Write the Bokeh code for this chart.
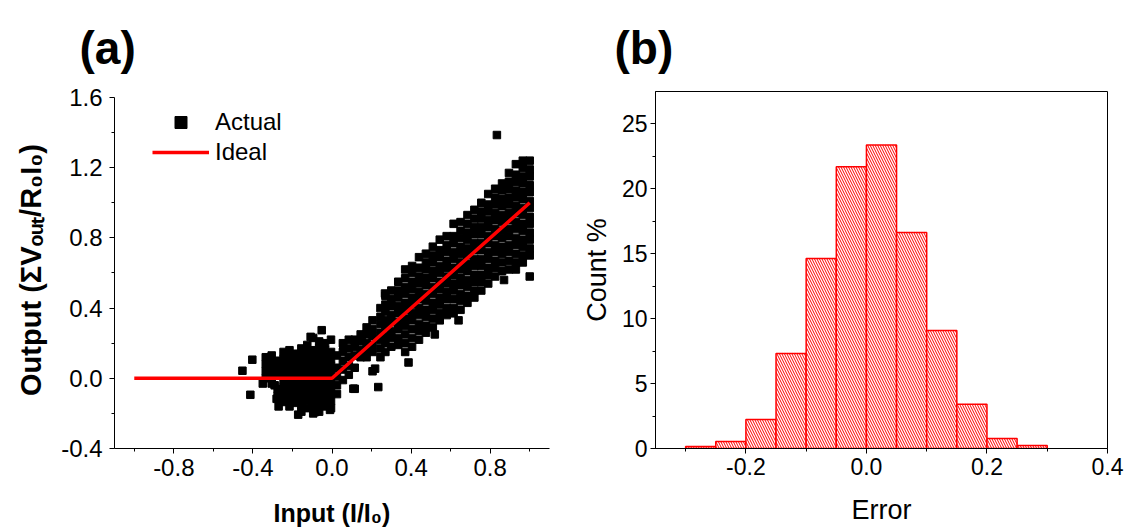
from bokeh.plotting import figure
from bokeh.models import (Range1d, FixedTicker, NumeralTickFormatter, Title,
                          Legend, LegendItem)
from bokeh.layouts import row
from bokeh.embed import file_html
from bokeh.resources import INLINE

FONT = "Liberation Sans"

# ---------------- data: panel (a) ----------------
ideal_x = [-1.0, 0.0, 1.0]
ideal_y = [0.0, 0.0, 1.0]

# "Actual" points
col_x = [-0.335, -0.305, -0.275, -0.245, -0.215, -0.185, -0.155, -0.125, -0.095,
         -0.065, -0.035, -0.005, 0.025,
         0.055, 0.085, 0.115, 0.145, 0.175, 0.205,
         0.245, 0.27, 0.30, 0.335, 0.37, 0.405, 0.44, 0.475, 0.51, 0.545, 0.58,
         0.615, 0.65, 0.685, 0.72, 0.755, 0.79, 0.825, 0.86, 0.895, 0.93, 0.965, 1.0]
col_y = [
    [0.12, 0.08, 0.04, 0.00],
    [0.13, 0.09, 0.05, 0.01, -0.03],
    [0.10, 0.06, 0.02, -0.06, -0.10],
    [0.15, 0.11, 0.07, 0.03, -0.01, -0.05, -0.09, -0.13],
    [0.16, 0.12, 0.08, 0.04, 0.00, -0.04, -0.08, -0.12, -0.16],
    [0.14, 0.10, 0.06, 0.02, -0.02, -0.06, -0.10, -0.14],
    [0.17, 0.13, 0.09, 0.05, 0.01, -0.03, -0.07, -0.11, -0.15, -0.19],
    [0.19, 0.15, 0.11, 0.07, 0.03, -0.01, -0.05, -0.09, -0.13, -0.17],
    [0.23, 0.16, 0.12, 0.08, 0.04, 0.00, -0.04, -0.08, -0.12, -0.16, -0.20],
    [0.21, 0.17, 0.13, 0.09, 0.05, 0.01, -0.03, -0.07, -0.11, -0.15, -0.19],
    [0.20, 0.16, 0.12, 0.08, 0.04, 0.00, -0.04, -0.08, -0.12, -0.16],
    [0.22, 0.15, 0.11, 0.07, 0.03, -0.01, -0.05, -0.09, -0.13, -0.17],
    [0.13, 0.06, 0.01, -0.04, -0.09],
    [0.20, 0.15, 0.10, 0.05, -0.01],
    [0.22, 0.17, 0.12, 0.07, 0.02],
    [0.22, 0.18, 0.13, 0.06, -0.06],
    [0.25, 0.21, 0.16, 0.12],
    [0.29, 0.25, 0.20, 0.16, 0.12],
    [0.33, 0.28, 0.24, 0.19, 0.15, 0.04],
    [0.40, 0.35, 0.31, 0.26, 0.22, 0.17, 0.12],
    [0.47, 0.42, 0.38, 0.33, 0.29, 0.24, 0.20, 0.15],
    [0.50, 0.45, 0.41, 0.36, 0.32, 0.27, 0.23, 0.18],
    [0.55, 0.50, 0.46, 0.41, 0.37, 0.32, 0.28, 0.23, 0.19],
    [0.62, 0.57, 0.52, 0.48, 0.43, 0.39, 0.34, 0.30, 0.25, 0.20, 0.15],
    [0.64, 0.60, 0.55, 0.51, 0.46, 0.42, 0.37, 0.33, 0.28, 0.23, 0.18],
    [0.69, 0.63, 0.58, 0.54, 0.49, 0.45, 0.40, 0.36, 0.31, 0.27, 0.22],
    [0.71, 0.66, 0.62, 0.57, 0.53, 0.48, 0.44, 0.39, 0.35, 0.30, 0.26],
    [0.75, 0.70, 0.66, 0.61, 0.57, 0.52, 0.48, 0.43, 0.39, 0.34, 0.29],
    [0.79, 0.73, 0.69, 0.64, 0.60, 0.55, 0.51, 0.46, 0.42, 0.37, 0.33],
    [0.81, 0.76, 0.72, 0.67, 0.63, 0.58, 0.54, 0.49, 0.45, 0.40, 0.36],
    [0.88, 0.81, 0.77, 0.72, 0.68, 0.63, 0.59, 0.54, 0.50, 0.45, 0.40, 0.37],
    [0.89, 0.84, 0.80, 0.75, 0.71, 0.66, 0.62, 0.57, 0.53, 0.48, 0.44, 0.39],
    [0.93, 0.88, 0.83, 0.79, 0.74, 0.70, 0.65, 0.61, 0.56, 0.52, 0.47, 0.43],
    [0.96, 0.91, 0.86, 0.82, 0.77, 0.73, 0.68, 0.64, 0.59, 0.55, 0.50, 0.46],
    [1.00, 0.95, 0.91, 0.86, 0.82, 0.77, 0.73, 0.68, 0.64, 0.59, 0.55, 0.50],
    [1.05, 0.99, 0.95, 0.90, 0.86, 0.81, 0.77, 0.72, 0.68, 0.63, 0.59, 0.54],
    [1.08, 1.03, 0.99, 0.94, 0.90, 0.85, 0.81, 0.76, 0.72, 0.67, 0.63, 0.58],
    [1.11, 1.07, 1.02, 0.98, 0.93, 0.89, 0.84, 0.80, 0.75, 0.71, 0.66, 0.61],
    [1.17, 1.12, 1.08, 1.03, 0.99, 0.94, 0.90, 0.85, 0.81, 0.76, 0.72, 0.67, 0.62],
    [1.22, 1.16, 1.12, 1.07, 1.03, 0.98, 0.94, 0.89, 0.85, 0.80, 0.76, 0.71, 0.66, 0.62],
    [1.24, 1.20, 1.15, 1.11, 1.06, 1.02, 0.97, 0.93, 0.88, 0.84, 0.79, 0.75, 0.70, 0.66],
    [1.24, 1.19, 1.15, 1.10, 1.06, 1.01, 0.97, 0.92, 0.88, 0.83, 0.79, 0.74, 0.70, 0.58],
]
# isolated points around the cloud
extra_x = [-0.453, -0.403, -0.413, -0.350, -0.290, -0.280, -0.250, -0.270, -0.171,
           -0.052, -0.108, -0.010, -0.086, 0.108, 0.234, 0.218, 0.150, 0.192,
           0.268, 0.834, 0.057, 0.387, 0.520, 0.640, 0.870]
extra_y = [0.043, 0.106, -0.094, -0.030, -0.040, -0.117, -0.135, -0.160, -0.207,
           0.274, 0.236, -0.180, -0.192, -0.059, -0.050, 0.055, 0.236, 0.264,
           0.483, 1.386, 0.188, 0.090, 0.250, 0.330, 0.560]

act_x = [x for x, ys in zip(col_x, col_y) for _ in ys] + extra_x
act_y = [y for ys in col_y for y in ys] + extra_y

a_xticks = [-0.8, -0.4, 0.0, 0.4, 0.8]
a_xminor = [-1.0, -0.6, -0.2, 0.2, 0.6, 1.0]
a_yticks = [-0.4, 0.0, 0.4, 0.8, 1.2, 1.6]
a_yminor = [-0.2, 0.2, 0.6, 1.0, 1.4]

# ---------------- data: panel (b) ----------------
bin_left = [-0.30, -0.25, -0.20, -0.15, -0.10, -0.05, 0.00, 0.05, 0.10, 0.15, 0.20, 0.25]
bin_right = [-0.25, -0.20, -0.15, -0.10, -0.05, 0.00, 0.05, 0.10, 0.15, 0.20, 0.25, 0.30]
count_pct = [0.15, 0.54, 2.23, 7.32, 14.64, 21.70, 23.38, 16.64, 9.09, 3.40, 0.77, 0.23]

b_xticks = [-0.2, 0.0, 0.2, 0.4]
b_xminor = [-0.3, -0.1, 0.1, 0.3]
b_yticks = [0, 5, 10, 15, 20, 25]
b_yminor = [2.5, 7.5, 12.5, 17.5, 22.5]


def style_axis(ax, size, standoff):
    ax.axis_line_color = "black"
    ax.axis_line_width = 1
    ax.major_tick_line_color = "black"
    ax.minor_tick_line_color = "black"
    ax.major_tick_out = 5
    ax.major_tick_in = 0
    ax.minor_tick_out = 3
    ax.minor_tick_in = 0
    ax.major_label_text_font = FONT
    ax.major_label_text_font_size = size
    ax.major_label_text_color = "black"
    ax.major_label_standoff = standoff
    ax.axis_label_text_font = FONT
    ax.axis_label_text_font_style = "normal"
    ax.axis_label_text_color = "black"


def panel_title(p, txt, offset, standoff):
    t = Title(text=txt, align="left", offset=offset, standoff=standoff)
    t.text_font = FONT
    t.text_font_style = "bold"
    t.text_font_size = "46px"
    t.text_color = "black"
    p.add_layout(t, "above")


# both figures share the same top/bottom borders (Bokeh aligns frames in a row)
TOP, FRAME_H, BOTTOM = 91, 357, 82

# ---------------- panel (a) ----------------
pa = figure(frame_width=435, frame_height=FRAME_H,
            x_range=Range1d(-1.1, 1.1), y_range=Range1d(-0.4, 1.634),
            output_backend="svg", toolbar_location=None,
            min_border_left=114, min_border_right=29, min_border_top=TOP,
            min_border_bottom=BOTTOM)
pa.outline_line_color = None
pa.grid.visible = False
pa.background_fill_color = "white"
pa.border_fill_color = "white"

sc = pa.scatter(act_x, act_y, marker="square", size=7.5, fill_color="black",
                line_color="black", line_width=1)
ln = pa.line(ideal_x, ideal_y, line_color="#ff0000", line_width=3.5)

pa.xaxis.ticker = FixedTicker(ticks=a_xticks, minor_ticks=a_xminor)
pa.yaxis.ticker = FixedTicker(ticks=a_yticks, minor_ticks=a_yminor)
pa.xaxis.formatter = NumeralTickFormatter(format="0.0")
pa.yaxis.formatter = NumeralTickFormatter(format="0.0")
pa.yaxis.bounds = (-0.4, 1.6)
style_axis(pa.xaxis[0], "24px", 5)
style_axis(pa.yaxis[0], "24px", 7)
pa.xaxis.axis_label = "Input (I/I\u2080)"
pa.yaxis.axis_label = "Output (\u03a3V\u2092\u1d64\u209c/R\u2080I\u2080)"
pa.xaxis.axis_label_text_font_style = "bold"
pa.yaxis.axis_label_text_font_style = "bold"
pa.xaxis.axis_label_text_font_size = "25px"
pa.yaxis.axis_label_text_font_size = "29px"
pa.xaxis.axis_label_standoff = 20
pa.yaxis.axis_label_standoff = 11

leg = Legend(items=[LegendItem(label="Actual", renderers=[sc]),
                    LegendItem(label="Ideal", renderers=[ln])],
             location=(38, 281))
leg.glyph_width = 57
leg.glyph_height = 30
leg.label_height = 30
leg.label_standoff = 6
leg.spacing = 0
leg.padding = 0
leg.margin = 0
leg.border_line_color = None
leg.background_fill_alpha = 0
leg.label_text_font = FONT
leg.label_text_font_size = "24px"
leg.label_text_color = "black"
pa.add_layout(leg)

panel_title(pa, "(a)", -35, 36)

# ---------------- panel (b) ----------------
pb = figure(frame_width=452, frame_height=FRAME_H,
            x_range=Range1d(-0.35, 0.4), y_range=Range1d(0, 27.5),
            output_backend="svg", toolbar_location=None,
            min_border_left=77, min_border_right=27, min_border_top=TOP,
            min_border_bottom=BOTTOM)
pb.outline_line_color = "black"
pb.outline_line_width = 1
pb.grid.visible = False
pb.background_fill_color = "white"
pb.border_fill_color = "white"

pb.quad(left=bin_left, right=bin_right, bottom=0, top=count_pct,
        fill_color="white", line_color="#ff0000", line_width=1.5,
        hatch_pattern="left_diagonal_line", hatch_color="#ff0000",
        hatch_scale=5, hatch_weight=1)

pb.xaxis.ticker = FixedTicker(ticks=b_xticks, minor_ticks=b_xminor)
pb.yaxis.ticker = FixedTicker(ticks=b_yticks, minor_ticks=b_yminor)
pb.xaxis.formatter = NumeralTickFormatter(format="0.0")
pb.yaxis.formatter = NumeralTickFormatter(format="0")
style_axis(pb.xaxis[0], "23px", 4)
style_axis(pb.yaxis[0], "23px", 3)
pb.xaxis.axis_label = "Error"
pb.yaxis.axis_label = "Count %"
pb.xaxis.axis_label_text_font_size = "27px"
pb.yaxis.axis_label_text_font_size = "27px"
pb.xaxis.axis_label_standoff = 17
pb.yaxis.axis_label_standoff = 7

panel_title(pb, "(b)", -41, 36)

layout = row(pa, pb)
open("out.html", "w").write(file_html(layout, INLINE, "chart"))
